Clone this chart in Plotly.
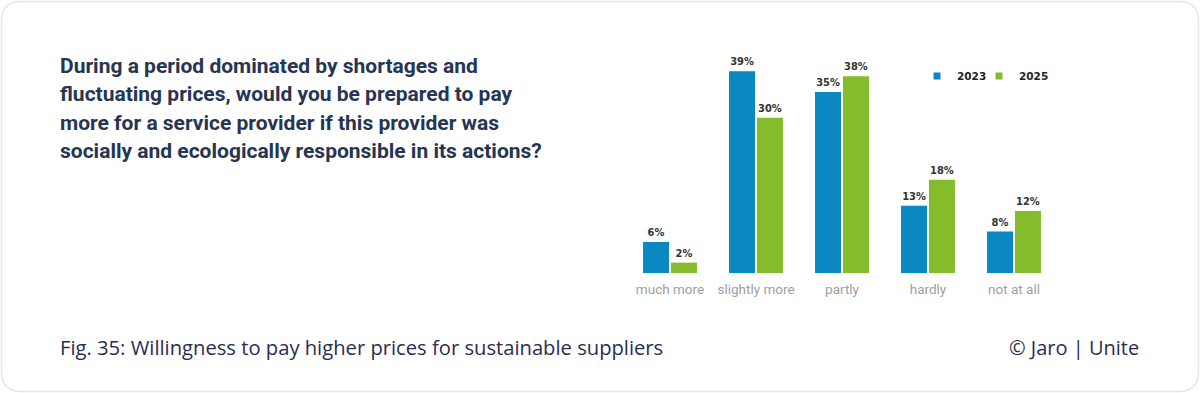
import plotly.graph_objects as go

categories = ["much more", "slightly more", "partly", "hardly", "not at all"]
values_2023 = [6, 39, 35, 13, 8]
values_2025 = [2, 30, 38, 18, 12]
series_names = ["2023", "2025"]
colors = ["#0a88c1", "#85bc2b"]

W, H = 1200, 393
x0, x1 = 627, 1057
y_base, y_top = 273, 66

fig = go.Figure()
for name, vals, col in zip(series_names, [values_2023, values_2025], colors):
    fig.add_trace(go.Bar(
        x=categories, y=vals, name=name, marker_color=col,
        marker_line_width=0, showlegend=False,
        text=[f"{v}%" for v in vals], textposition="outside",
        textfont=dict(family="DejaVu Sans Condensed, DejaVu Sans", size=11, color="#333333", weight="bold"),
        cliponaxis=False,
    ))
# legend entries as small squares, one legend box per series
legend_ids = ["legend", "legend2"]
legend_text_x = [959, 1021]
for name, col, lid in zip(series_names, colors, legend_ids):
    fig.add_trace(go.Scatter(
        x=[None], y=[None], mode="markers", name=name,
        marker=dict(symbol="square", size=7, color=col),
        showlegend=True, legend=lid,
    ))

legend_style = dict(orientation="h", xanchor="left", y=(H - 76) / H, yanchor="middle",
                    font=dict(family="DejaVu Sans", size=10.5, color="#222222", weight="bold"),
                    itemwidth=30, bgcolor="rgba(0,0,0,0)", borderwidth=0)

fig.update_layout(
    width=W, height=H,
    margin=dict(l=0, r=0, t=0, b=0),
    paper_bgcolor="white", plot_bgcolor="white",
    barmode="group", bargap=0.35, bargroupgap=0.07,
    xaxis=dict(domain=[x0 / W, x1 / W], showgrid=False, zeroline=False, showline=False,
               ticks="", ticklabelstandoff=6,
               tickfont=dict(family="Roboto", size=13.5, color="#a0a0a0"),
               range=[-0.5, 4.5]),
    yaxis=dict(domain=[(H - y_base) / H, (H - y_top) / H], range=[0, 40], visible=False),
    legend=dict(x=(legend_text_x[0] - 42) / W, **legend_style),
    legend2=dict(x=(legend_text_x[1] - 42) / W, **legend_style),
    font=dict(family="Roboto"),
)

# card border
rx, ry = 20 / W, 20 / H
l, r, b, t = 1.5 / W, 1 - 1.5 / W, 1.5 / H, 1 - 1.5 / H
path = (f"M {l+rx},{b} L {r-rx},{b} Q {r},{b} {r},{b+ry} L {r},{t-ry} Q {r},{t} {r-rx},{t} "
        f"L {l+rx},{t} Q {l},{t} {l},{t-ry} L {l},{b+ry} Q {l},{b} {l+rx},{b} Z")
fig.add_shape(type="path", path=path, xref="paper", yref="paper",
              line=dict(color="#e6e6e6", width=1.5), fillcolor="rgba(0,0,0,0)", layer="below")

title_lines = [
    "During a period dominated by shortages and",
    "fluctuating prices, would you be prepared to pay",
    "more for a service provider if this provider was",
    "socially and ecologically responsible in its actions?",
]
for i, line in enumerate(title_lines):
    fig.add_annotation(
        text=line, xref="paper", yref="paper",
        x=58 / W, y=(H - (66 + 28.3 * i)) / H, xanchor="left", yanchor="middle",
        align="left", showarrow=False,
        font=dict(family="Roboto", size=21, color="#253552", weight="bold"),
    )
fig.add_annotation(
    text="Fig. 35: Willingness to pay higher prices for sustainable suppliers",
    xref="paper", yref="paper", x=58 / W, y=(H - 347) / H, xanchor="left", yanchor="middle",
    showarrow=False, font=dict(family="Open Sans", size=20.2, color="#2a2d52"),
)
fig.add_annotation(
    text="© Jaro | Unite", xref="paper", yref="paper", x=1141 / W, y=(H - 347) / H,
    xanchor="right", yanchor="middle", showarrow=False,
    font=dict(family="Open Sans", size=20, color="#2a2d52"),
)

fig.write_html("out.html", config={"displayModeBar": False},
               post_script="document.body.style.margin='0';document.body.style.overflow='hidden';")
